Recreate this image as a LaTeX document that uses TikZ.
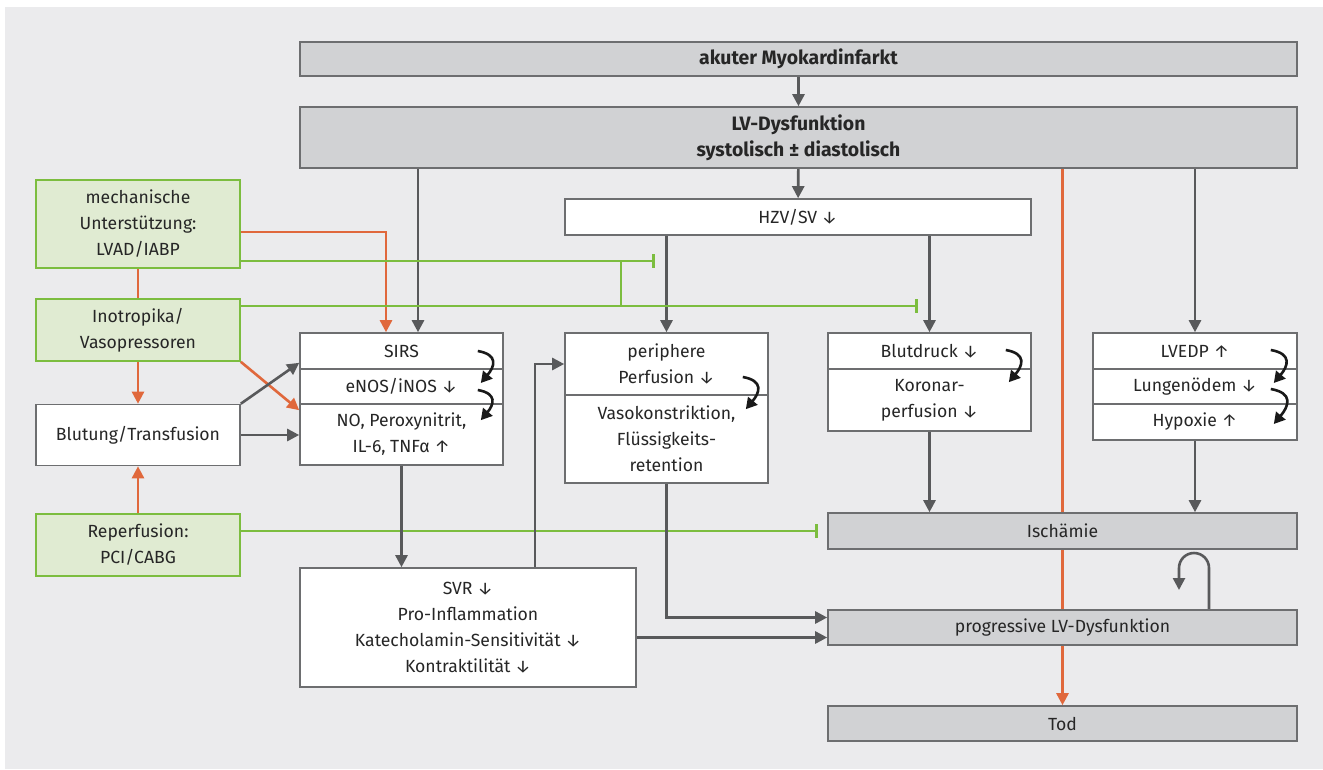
\documentclass[tikz,border=0pt]{standalone}
\usepackage{fontspec}
\setmainfont{Fira Sans}
\usetikzlibrary{arrows.meta,calc}
\pgfdeclarelayer{panel}
\pgfdeclarelayer{back}
\pgfsetlayers{panel,back,main}
\definecolor{panelgray}{HTML}{EBEBED}
\definecolor{boxgray}{HTML}{D1D2D4}
\definecolor{boxline}{HTML}{6D6E70}
\definecolor{linegray}{HTML}{58595B}
\definecolor{redorange}{HTML}{E0683C}
\definecolor{lgreen}{HTML}{7CBD3F}
\definecolor{greenfill}{HTML}{E0EBD2}
\tikzset{
	box/.style={draw=boxline, line width=1.6pt, fill=white, inner sep=0pt, align=center, text=black!85, font=\fontsize{17.6}{26}\selectfont},
	greybox/.style={box, fill=boxgray},
	boldbox/.style={greybox, font=\fontsize{19.4}{26}\selectfont\bfseries},
	greenbox/.style={box, draw=lgreen, fill=greenfill},
	conn/.style={draw=linegray, line width=2.6pt, -{Triangle[length=12pt,width=12pt]}},
	redconn/.style={draw=redorange, line width=2.6pt, -{Triangle[length=12pt,width=12pt]}},
	redline/.style={draw=redorange, line width=2.6pt},
	inhib/.style={draw=lgreen, line width=2.6pt, -{Bar[width=14pt]}},
	greenline/.style={draw=lgreen, line width=2.6pt},
	turn/.style={draw=black!90, line width=2.6pt, -{Triangle[length=11pt,width=12pt]}, out=-10, in=50, looseness=1.7}
}

\begin{document}
\begin{tikzpicture}[x=1pt, y=-1pt]
			%%%%% START %%%%%
			\useasboundingbox (0,0) rectangle (1323,769);
			\begin{pgfonlayer}{panel}
			\fill[panelgray] (5,7) rectangle (1323,769);
			\end{pgfonlayer}
			
			\node[boldbox, minimum width=997pt, minimum height=34pt] (mi) at (798.5,59) {akuter Myokardinfarkt};
			\node[boldbox, minimum width=997pt, minimum height=61pt] (lv) at (798.5,137.5) {LV-Dysfunktion\\systolisch ± diastolisch};
			
			\node[greenbox, minimum width=204pt, minimum height=88pt] (mech) at (138,224) {mechanische\\Unterstützung:\\LVAD/IABP};
			\node[greenbox, minimum width=204pt, minimum height=62pt] (inot) at (138,330) {Inotropika/\\Vasopressoren};
			\node[box, minimum width=204pt, minimum height=61pt] (blut) at (138,435) {Blutung/Transfusion};
			\node[greenbox, minimum width=204pt, minimum height=62pt] (rep) at (138,545) {Reperfusion:\\PCI/CABG};
			
			\node[box, minimum width=466pt, minimum height=36pt] (hzv) at (798,217) {HZV/SV ↓};
			
			\node[box, minimum width=203pt, minimum height=36pt] (sirs1) at (401.5,351) {SIRS};
			\node[box, minimum width=203pt, minimum height=35pt] (sirs2) at (401.5,386.5) {eNOS/iNOS ↓};
			\node[box, minimum width=203pt, minimum height=61pt] (sirs3) at (401.5,434.5) {NO, Peroxynitrit,\\IL-6, TNFα ↑};
			
			\node[box, minimum width=203pt, minimum height=62pt] (peri1) at (666.5,364) {periphere\\Perfusion ↓};
			\node[box, minimum width=203pt, minimum height=88pt] (peri2) at (666.5,439) {Vasokonstriktion,\\Flüssigkeits-\\retention};
			
			\node[box, minimum width=203pt, minimum height=36pt] (bd1) at (929.5,351) {Blutdruck ↓};
			\node[box, minimum width=203pt, minimum height=62pt] (bd2) at (929.5,400) {Koronar-\\perfusion ↓};
			
			\node[box, minimum width=204pt, minimum height=36pt] (lvedp1) at (1195,351) {LVEDP ↑};
			\node[box, minimum width=204pt, minimum height=35pt] (lvedp2) at (1195,386.5) {Lungenödem ↓};
			\node[box, minimum width=204pt, minimum height=36pt] (lvedp3) at (1195,422) {Hypoxie ↑};
			
			\node[greybox, minimum width=469pt, minimum height=36pt] (isch) at (1062.5,531) {Ischämie};
			\node[greybox, minimum width=469pt, minimum height=35pt] (prog) at (1062.5,627.5) {progressive LV-Dysfunktion};
			\node[greybox, minimum width=469pt, minimum height=35pt] (tod) at (1062.5,723.5) {Tod};
			
			\node[box, minimum width=336pt, minimum height=119pt] (svr) at (468,627.5) {SVR ↓\\Pro-Inflammation\\Katecholamin-Sensitivität ↓\\Kontraktilität ↓};
			
			\coordinate (hzvstop) at (655,261);
			\coordinate (bdstop) at (918,306);
			\coordinate (ischstop) at (818,531);
			
			\begin{pgfonlayer}{back}
			\draw[conn] (mi) -- (lv);
			\draw[conn] (418,0 |- lv.south) -- (418,0 |- sirs1.north);
			\draw[conn] (lv) -- (hzv);
			\draw[conn] (lv.south -| lvedp1) -- (lvedp1);
			\draw[redconn] (lv.south -| tod) -- (tod);
			
			\draw[conn] (peri1.north |- hzv.south) -- (peri1);
			\draw[conn] (bd1.north |- hzv.south) -- (bd1);
			
			\draw[redconn] ($(mech.east)+(0,8)$) -| (386,0 |- sirs1.north);
			\draw[greenline] (621,0 |- hzvstop) -- (621,0 |- bdstop);
			\draw[inhib] ($(mech.east)+(0,37)$) -- (hzvstop);
			\draw[inhib] ($(inot.east)+(0,-24)$) -- (bdstop);
			\draw[inhib] (rep.east |- ischstop) -- (ischstop);
			
			\draw[redline] (mech) -- (inot);
			\draw[redconn] (inot) -- (blut);
			\draw[redconn] (rep) -- (blut);
			\draw[redconn] (inot.south east) -- ($(sirs3.north west)+(0,7)$);
			\draw[conn] (blut.north east) -- ($(sirs1.south west)+(0,-7)$);
			\draw[conn] (blut) -- (blut -| sirs3.west);
			
			\draw[conn] (sirs3) -- (sirs3 |- svr.north);
			\draw[conn] (535,0 |- svr.north) |- (peri1);
			\draw[conn] (peri2) |- ($(prog.west)+(0,-10)$);
			\draw[conn] ($(svr.east)+(0,10)$) -- ($(svr.east -| prog.west)+(0,10)$);
			\draw[conn] (bd2) -- (bd2 |- isch.north);
			\draw[conn] (lvedp3) -- (lvedp3 |- isch.north);
			\draw[conn] (1209,0 |- prog.north) -- (1209,568) arc (0:180:15pt) -- (1179,590);
			\end{pgfonlayer}
			
			\draw[turn] ($(sirs1.east)+(-26,0)$) to ($(sirs2.east)+(-23,-3.5)$);
			\draw[turn] ($(sirs2.east)+(-26,3.5)$) to ($(sirs3.north east)+(-23,17)$);
			\draw[turn] ($(peri1.east)+(-26,13)$) to ($(peri2.north east)+(-23,15)$);
			\draw[turn] ($(bd1.east)+(-26,-1)$) to ($(bd2.north east)+(-23,14)$);
			\draw[turn] ($(lvedp1.east)+(-27,-1)$) to ($(lvedp2.east)+(-24,-3.5)$);
			\draw[turn] ($(lvedp2.east)+(-27,2.5)$) to ($(lvedp3.east)+(-24,2)$);
			%%%%% END %%%%%
\end{tikzpicture}
\end{document}
